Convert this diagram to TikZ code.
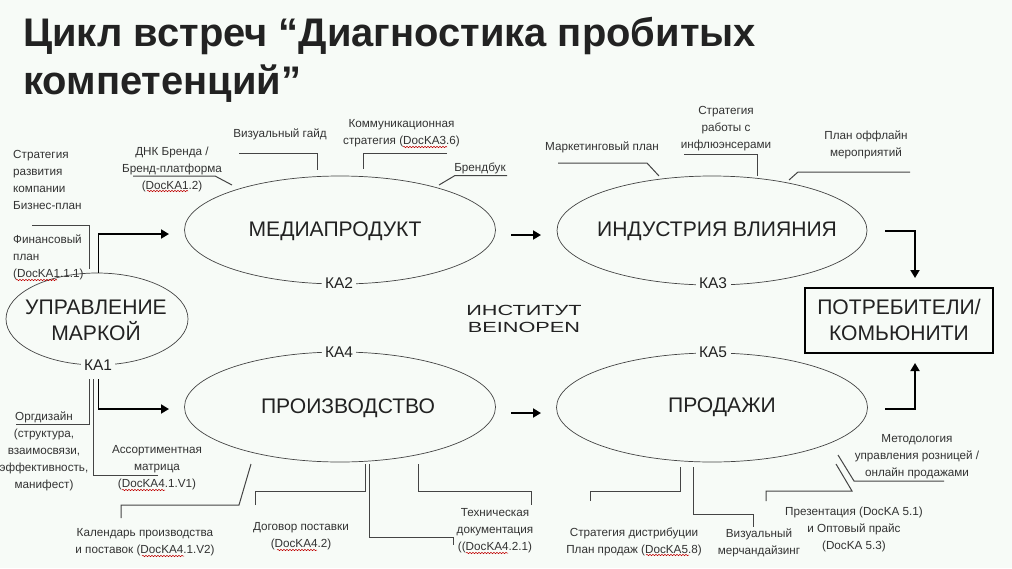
\documentclass[tikz,border=0pt]{standalone}
\usepackage{fontspec}
\setmainfont{Liberation Sans}
\usetikzlibrary{shapes.geometric,arrows.meta,decorations.pathmorphing}
\definecolor{bg}{HTML}{F7FBF7}
\definecolor{ink}{HTML}{222222}
\definecolor{small}{HTML}{333333}
\definecolor{lead}{HTML}{444444}
\tikzset{
  oval/.style={draw=lead,line width=.7pt,ellipse,inner sep=0pt},
  big/.style={inner sep=0pt,text=ink,align=center,font=\fontsize{21.1}{26}\selectfont},
  ka/.style={fill=bg,inner sep=3.5pt,text=ink,font=\fontsize{15.5}{18}\selectfont},
  lbl/.style={inner sep=0pt,text=small,font=\fontsize{11.7}{17}\selectfont,align=center},
  lead/.style={draw=lead,line width=1pt},
  flow/.style={draw=black,line width=1.8pt,-{Triangle[length=8pt,width=9pt]}},
  wav/.style={draw=red!75!black,line width=.5pt,decorate,decoration={snake,amplitude=.7pt,segment length=3pt}}
}
\begin{document}
\begin{tikzpicture}[x=1pt,y=-1pt]
\path[use as bounding box,fill=bg] (0,0) rectangle (1012,568);
% title
\node[anchor=west,inner sep=0pt,text=ink,font=\fontsize{39.9}{48}\selectfont\bfseries] (title1) at (23,36.5) {Цикл встреч “Диагностика пробитых};
\node[anchor=west,inner sep=0pt,text=ink,font=\fontsize{39.9}{48}\selectfont\bfseries] (title2) at (23,84) {компетенций”};
% ellipses
\node[oval,minimum width=182pt,minimum height=92pt] (um) at (97,319) {};
\node[oval,minimum width=311pt,minimum height=108pt] (med) at (340,230) {};
\node[oval,minimum width=310pt,minimum height=109pt] (ind) at (712,230.5) {};
\node[oval,minimum width=311pt,minimum height=110pt] (pro) at (340,407) {};
\node[oval,minimum width=311pt,minimum height=109pt] (sal) at (712,407.5) {};
\node[big] (umt) at (96,320) {УПРАВЛЕНИЕ\\МАРКОЙ};
\node[big] (medt) at (335,231) {МЕДИАПРОДУКТ};
\node[big] (indt) at (717,231) {ИНДУСТРИЯ ВЛИЯНИЯ};
\node[big] (prot) at (348,408) {ПРОИЗВОДСТВО};
\node[big] (salt) at (722,407.5) {ПРОДАЖИ};
% KA labels
\node[ka] (ka1) at (98,365) {КА1};
\node[ka] (ka2) at (339,283.5) {КА2};
\node[ka] (ka3) at (713,283.5) {КА3};
\node[ka] (ka4) at (339,352.5) {КА4};
\node[ka] (ka5) at (713,352.5) {КА5};
% consumers
\node[draw=black,line width=2pt,minimum width=188pt,minimum height=65pt,inner sep=0pt,text=ink,align=center,font=\fontsize{21.1}{26}\selectfont] (cons) at (899,320) {ПОТРЕБИТЕЛИ/\\КОМЬЮНИТИ};
% institute
\node[inner sep=0pt,text=ink,font=\fontsize{14}{17}\selectfont,align=center] (inst) at (524,319) {\scalebox{1.55}[1.05]{ИНСТИТУТ}\\\scalebox{1.55}[1.05]{BEINOPEN}};
% small labels
\node[lbl,align=left,anchor=north west] (t1) at (13,150) {Стратегия\\развития\\компании\\Бизнес-план};
\node[lbl,align=left,anchor=north west] (t2) at (13,235) {Финансовый\\план\\(DocKA1.1.1)};
\node[lbl] (t3) at (172,169) {ДНК Бренда /\\Бренд-платформа\\(DocKA1.2)};
\node[lbl] (t4) at (280,134) {Визуальный гайд};
\node[lbl] (t5) at (401.5,133) {Коммуникационная\\стратегия (DocKA3.6)};
\node[lbl] (t6) at (480,168) {Брендбук};
\node[lbl] (t7) at (602,147) {Маркетинговый план};
\node[lbl] (t8) at (726,129) {Стратегия\\работы с\\инфлюэнсерами};
\node[lbl] (t9) at (866,144.5) {План оффлайн\\мероприятий};
\node[lbl] (t10) at (44,451.5) {Оргдизайн\\(структура,\\взаимосвязи,\\эффективность,\\манифест)};
\node[lbl] (t11) at (157,468) {Ассортиментная\\матрица\\(DocKA4.1.V1)};
\node[lbl] (t12) at (145,542.5) {Календарь производства\\и поставок (DocKA4.1.V2)};
\node[lbl] (t13) at (301,536.5) {Договор поставки\\(DocKA4.2)};
\node[lbl] (t14) at (495,531) {Техническая\\документация\\((DocKA4.2.1)};
\node[lbl] (t15) at (634,541.5) {Стратегия дистрибуции\\План продаж (DocKA5.8)};
\node[lbl] (t16) at (759,542.5) {Визуальный\\мерчандайзинг};
\node[lbl] (t17) at (854,529) {Презентация (DocKA 5.1)\\и Оптовый прайс\\(DocKA 5.3)};
\node[lbl] (t18) at (917,457) {Методология\\управления розницей /\\онлайн продажами};
% leader ends
\coordinate (a1) at (32,225);   \coordinate (b1) at (89.5,269);
\coordinate (a2) at (133,176);  \coordinate (m2) at (215,176); \coordinate (b2) at (232,185);
\coordinate (a3) at (239,153.5);\coordinate (b3) at (317.5,170);
\coordinate (a4) at (447,153.5);\coordinate (b4) at (363,169);
\coordinate (a5) at (507,175.5);\coordinate (m5) at (455,175.5); \coordinate (b5) at (439,185);
\coordinate (a6) at (558,163);  \coordinate (m6) at (647,163); \coordinate (b6) at (659,176);
\coordinate (a7) at (684,154);  \coordinate (b7) at (757,176);
\coordinate (a8) at (910,172);  \coordinate (m8) at (798,172); \coordinate (b8) at (789,180);
\coordinate (a9) at (16,424);   \coordinate (b9) at (89.5,379);
\coordinate (a10) at (158,475); \coordinate (b10) at (93.5,379);
\coordinate (a11) at (121,518); \coordinate (m11) at (121,505); \coordinate (n11) at (239,505); \coordinate (b11) at (251,464);
\coordinate (a12) at (255.5,505);\coordinate (m12) at (255.5,491); \coordinate (n12) at (365,491); \coordinate (b12) at (365,464);
\coordinate (a13) at (369,464); \coordinate (m13) at (369,537); \coordinate (n13) at (453,537); \coordinate (b13) at (453,545);
\coordinate (a14) at (418,464); \coordinate (m14) at (418,491); \coordinate (n14) at (531,491); \coordinate (b14) at (531,505);
\coordinate (a15) at (590,501); \coordinate (m15) at (590,491); \coordinate (n15) at (680,491); \coordinate (b15) at (680,467);
\coordinate (a16) at (693,467); \coordinate (m16) at (693,514); \coordinate (n16) at (753,514); \coordinate (b16) at (753,527);
\coordinate (a17) at (766,501); \coordinate (m17) at (766,491); \coordinate (n17) at (852,491); \coordinate (b17) at (836,464);
\coordinate (a18) at (944,481); \coordinate (m18) at (854,481); \coordinate (b18) at (838,455);
% leaders
\draw[lead] (a1) -| (b1);
\draw[lead] (a2) -- (m2) -- (b2);
\draw[lead] (a3) -| (b3);
\draw[lead] (a4) -| (b4);
\draw[lead] (a5) -- (m5) -- (b5);
\draw[lead] (a6) -- (m6) -- (b6);
\draw[lead] (a7) -| (b7);
\draw[lead] (a8) -- (m8) -- (b8);
\draw[lead] (a9) -| (b9);
\draw[lead] (a10) -| (b10);
\draw[lead] (a11) -- (m11) -- (n11) -- (b11);
\draw[lead] (a12) -- (m12) -- (n12) -- (b12);
\draw[lead] (a13) -- (m13) -- (n13) -- (b13);
\draw[lead] (a14) -- (m14) -- (n14) -- (b14);
\draw[lead] (a15) -- (m15) -- (n15) -- (b15);
\draw[lead] (a16) -- (m16) -- (n16) -- (b16);
\draw[lead] (a17) -- (m17) -- (n17) -- (b17);
\draw[lead] (a18) -- (m18) -- (b18);
% flows
\coordinate (f1) at (98.5,273); \coordinate (f1e) at (169,234);
\coordinate (f2) at (98.5,379); \coordinate (f2e) at (169,409);
\coordinate (f3) at (511,235);  \coordinate (f3e) at (541,235);
\coordinate (f4) at (511,413);  \coordinate (f4e) at (541,413);
\coordinate (f5) at (885,231);  \coordinate (f5e) at (915,278);
\coordinate (f6) at (885,409);  \coordinate (f6e) at (915,363);
\draw[flow] (f1) |- (f1e);
\draw[flow] (f2) |- (f2e);
\draw[flow] (f3) -- (f3e);
\draw[flow] (f4) -- (f4e);
\draw[flow] (f5) -| (f5e);
\draw[flow] (f6) -| (f6e);
% spell-check waves
\draw[wav] (16,280) -- (57,280);
\draw[wav] (147,191) -- (188,191);
\draw[wav] (403,147) -- (447,147);
\draw[wav] (122,490) -- (165,490);
\draw[wav] (142,556) -- (184,556);
\draw[wav] (277,550) -- (317,550);
\draw[wav] (466,553) -- (508,553);
\draw[wav] (646,555) -- (689,555);
\end{tikzpicture}
\end{document}
